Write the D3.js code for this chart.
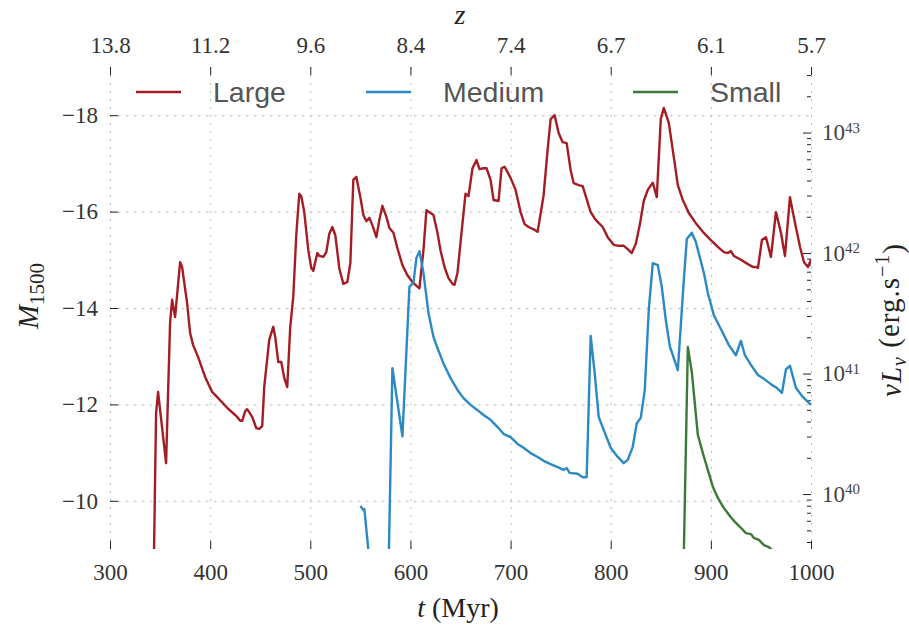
<!DOCTYPE html>
<html><head><meta charset="utf-8">
<script src="https://cdn.jsdelivr.net/npm/d3@7"></script>
<style>body{margin:0;background:#fff;} svg{display:block;}</style>
</head><body>
<svg id="chart" width="909" height="627"></svg>
<script>
// ---- data (t in Myr, M1500) ----
const seriesNames = ["Large", "Medium", "Small"];
const seriesColors = ["#A41C24", "#2B89C4", "#3B7A38"];
const largeData = [[344,-9.0],[346,-11.82],[348,-12.26],[356,-10.78],[360,-13.69],[362,-14.17],[365,-13.81],[370,-14.95],[372,-14.85],[377,-14.10],[380,-13.48],[383,-13.23],[388,-12.98],[395,-12.57],[402,-12.26],[408,-12.13],[417,-11.93],[425,-11.78],[427,-11.74],[430,-11.66],[432,-11.66],[435,-11.86],[437,-11.90],[442,-11.74],[446,-11.51],[449,-11.49],[452,-11.55],[454,-12.36],[459,-13.34],[463,-13.61],[465,-13.40],[468,-12.88],[471,-12.88],[474,-12.55],[477,-12.36],[480,-13.61],[483,-14.23],[486,-15.51],[489,-16.37],[491,-16.32],[494,-15.99],[498,-15.20],[501,-14.83],[503,-14.77],[507,-15.14],[509,-15.08],[513,-15.06],[516,-15.16],[519,-15.54],[522,-15.68],[525,-15.51],[529,-14.82],[533,-14.50],[537,-14.54],[540,-14.93],[543,-16.66],[546,-16.72],[550,-16.30],[553,-15.93],[556,-15.80],[559,-15.87],[562,-15.72],[566,-15.47],[569,-15.83],[572,-16.12],[576,-15.89],[579,-15.66],[583,-15.56],[587,-15.24],[592,-14.89],[597,-14.68],[602,-14.54],[606,-14.46],[609,-14.41],[613,-15.20],[616,-16.03],[620,-15.97],[623,-15.93],[627,-15.56],[630,-15.20],[634,-14.85],[638,-14.62],[642,-14.50],[644,-14.48],[647,-14.73],[651,-15.56],[655,-16.37],[658,-16.32],[662,-16.90],[666,-17.07],[669,-16.88],[673,-16.90],[676,-16.90],[680,-16.66],[683,-16.24],[688,-16.22],[691,-16.90],[694,-16.93],[697,-16.82],[700,-16.70],[705,-16.45],[710,-15.99],[714,-15.74],[718,-15.68],[724,-15.62],[727,-15.58],[733,-16.34],[737,-17.28],[740,-17.92],[744,-18.00],[748,-17.63],[752,-17.44],[756,-17.42],[760,-16.86],[763,-16.59],[768,-16.55],[772,-16.53],[780,-15.99],[785,-15.83],[792,-15.68],[797,-15.47],[803,-15.31],[808,-15.29],[813,-15.29],[817,-15.22],[821,-15.14],[825,-15.33],[829,-15.72],[833,-16.22],[837,-16.45],[842,-16.60],[846,-16.30],[850,-17.92],[853,-18.15],[858,-17.84],[863,-17.13],[867,-16.55],[872,-16.24],[878,-15.97],[885,-15.76],[892,-15.58],[900,-15.41],[907,-15.27],[913,-15.16],[917,-15.14],[920,-15.18],[923,-15.08],[930,-15.00],[937,-14.91],[942,-14.85],[945,-14.85],[947,-14.83],[951,-15.41],[955,-15.47],[960,-15.06],[965,-15.99],[970,-15.56],[974,-15.08],[979,-16.30],[983,-15.87],[989,-15.27],[993,-14.95],[997,-14.85],[1000,-15.0]];
const mediumData = [[550,-9.89],[553,-9.81],[554,-9.83],[558,-8.98],[562,-8.4],[578,-8.4],[582,-12.75],[592,-11.34],[599,-14.44],[603,-14.52],[606,-15.04],[609,-15.18],[613,-14.73],[618,-13.90],[623,-13.40],[627,-13.17],[633,-12.85],[640,-12.55],[647,-12.30],[653,-12.13],[660,-11.99],[667,-11.88],[673,-11.78],[680,-11.68],[687,-11.53],[693,-11.39],[700,-11.32],[707,-11.18],[713,-11.10],[720,-10.99],[727,-10.91],[733,-10.83],[740,-10.76],[747,-10.70],[753,-10.64],[756,-10.68],[759,-10.58],[767,-10.56],[772,-10.49],[776,-10.49],[780,-13.42],[784,-12.65],[788,-11.74],[793,-11.47],[800,-11.10],[807,-10.91],[813,-10.78],[817,-10.85],[822,-11.12],[826,-11.61],[830,-11.72],[834,-12.30],[838,-13.96],[842,-14.93],[847,-14.89],[851,-14.44],[855,-13.75],[859,-13.21],[867,-12.71],[873,-14.58],[876,-15.43],[881,-15.56],[885,-15.37],[893,-14.73],[897,-14.31],[903,-13.85],[912,-13.48],[918,-13.23],[925,-13.02],[930,-13.32],[934,-13.02],[940,-12.82],[947,-12.61],[953,-12.53],[960,-12.42],[966,-12.34],[971,-12.24],[975,-12.73],[979,-12.80],[985,-12.34],[992,-12.15],[1000,-11.99]];
const smallData = [[873,-8.9],[877,-13.19],[881,-12.67],[887,-11.37],[892,-10.99],[897,-10.64],[902,-10.29],[907,-10.06],[913,-9.85],[920,-9.66],[925,-9.54],[930,-9.44],[935,-9.33],[940,-9.31],[943,-9.23],[948,-9.19],[953,-9.08],[958,-9.04],[961,-8.98],[964,-8.9]];
const xTicks = [300,400,500,600,700,800,900,1000];
const zTickLabels = ["13.8","11.2","9.6","8.4","7.4","6.7","6.1","5.7"];
const yTicks = [-18,-16,-14,-12,-10];
const lumMajor = [1e40,1e41,1e42,1e43];

// ---- layout ----
const svg = d3.select("#chart");
const P = {l:110, r:811, t:67, b:549};
const x = d3.scaleLinear().domain([300,1000]).range([P.l,P.r]);
const y = d3.scaleLinear().domain([-9,-19]).range([P.b,P.t]);
const yR = d3.scaleLog().domain([Math.pow(10,39.544), Math.pow(10,43.544)]).range([P.b,P.t]);
const SERIF = "'Liberation Serif', 'Times New Roman', serif";
const SANS = "'Liberation Sans', Arial, sans-serif";
const gridColor = "#bdbdbd";

// grid
svg.append("g").attr("transform",`translate(0,${P.b})`)
  .call(d3.axisBottom(x).tickValues(xTicks).tickSize(-(P.b-P.t)).tickFormat(""))
  .call(g=>g.select(".domain").remove())
  .selectAll("line").attr("stroke",gridColor).attr("stroke-width",1).attr("stroke-dasharray","2,6");
svg.append("g").attr("transform",`translate(${P.l},0)`)
  .call(d3.axisLeft(y).tickValues(yTicks).tickSize(-(P.r-P.l)).tickFormat(""))
  .call(g=>g.select(".domain").remove())
  .selectAll("line").attr("stroke",gridColor).attr("stroke-width",1).attr("stroke-dasharray","2.5,5.5");

function styleAxis(g, color){
  g.select(".domain").remove();
  g.selectAll(".tick line").attr("stroke","#222").attr("stroke-width",1);
  g.selectAll(".tick text").attr("font-family",SERIF).attr("font-size","23px").attr("fill",color||"#333");
}
// bottom axis
svg.append("g").attr("transform",`translate(0,${P.b})`)
  .call(d3.axisBottom(x).tickValues(xTicks).tickSizeInner(-8).tickSizeOuter(0).tickPadding(15).tickFormat(d3.format("d")))
  .call(g=>styleAxis(g));
// top axis (redshift)
svg.append("g").attr("transform",`translate(0,${P.t})`)
  .call(d3.axisTop(x).tickValues(xTicks).tickSizeInner(-8).tickSizeOuter(0).tickPadding(14).tickFormat((d,i)=>zTickLabels[i]))
  .call(g=>styleAxis(g));
// left axis
svg.append("g").attr("transform",`translate(${P.l},0)`)
  .call(d3.axisLeft(y).tickValues(yTicks).tickSizeInner(-8).tickSizeOuter(0).tickPadding(12).tickFormat(d=>"\u2212"+Math.abs(d)))
  .call(g=>styleAxis(g));
// right axis minor
const lumMinor = [];
for (let k=39;k<=43;k++) for (let j=2;j<=9;j++){ const v=j*Math.pow(10,k); if (v>=yR.domain()[0] && v<=yR.domain()[1]) lumMinor.push(v); }
svg.append("g").attr("transform",`translate(${P.r},0)`)
  .call(d3.axisRight(yR).tickValues(lumMinor).tickSizeInner(-4).tickSizeOuter(0).tickFormat(""))
  .call(g=>styleAxis(g));
const rAx = svg.append("g").attr("transform",`translate(${P.r},0)`)
  .call(d3.axisRight(yR).tickValues(lumMajor).tickSizeInner(-8).tickSizeOuter(0).tickPadding(11).tickFormat(""))
  .call(g=>styleAxis(g,"#444"));
rAx.selectAll(".tick text").each(function(d){
  const t = d3.select(this);
  t.append("tspan").text("10");
  t.append("tspan").attr("dy","-0.5em").attr("font-size","15px").text(Math.round(Math.log10(d)));
});

// clip & lines
svg.append("clipPath").attr("id","plotclip").append("rect")
  .attr("x",P.l).attr("y",P.t).attr("width",P.r-P.l).attr("height",P.b-P.t);
const line = d3.line().x(d=>x(d[0])).y(d=>y(d[1]));
const allData = [largeData, mediumData, smallData];
const lg = svg.append("g").attr("clip-path","url(#plotclip)");
allData.forEach((data,i)=>{
  lg.append("path").datum(data).attr("d",line).attr("fill","none")
    .attr("stroke",seriesColors[i]).attr("stroke-width",2.4).attr("stroke-linejoin","round");
});

// legend
const legX = [136, 366, 633];
seriesNames.forEach((n,i)=>{
  svg.append("line").attr("x1",legX[i]).attr("x2",legX[i]+45).attr("y1",92).attr("y2",92)
    .attr("stroke",seriesColors[i]).attr("stroke-width",2.6);
  svg.append("text").attr("x",legX[i]+77).attr("y",102).attr("font-family",SANS)
    .attr("font-size","28.5px").attr("fill","#555").text(n);
});

// axis titles
svg.append("text").attr("x",460).attr("y",24).attr("text-anchor","middle")
  .attr("font-family",SERIF).attr("font-size","28px").attr("font-style","italic").attr("fill","#222").text("z");
const tx = svg.append("text").attr("x",458).attr("y",617).attr("text-anchor","middle")
  .attr("font-family",SERIF).attr("font-size","28px").attr("fill","#222");
tx.append("tspan").attr("font-style","italic").text("t");
tx.append("tspan").text(" (Myr)");
const ly = svg.append("text").attr("transform","translate(38,296) rotate(-90)").attr("text-anchor","middle")
  .attr("font-family",SERIF).attr("font-size","29px").attr("fill","#222");
ly.append("tspan").attr("font-style","italic").text("M");
ly.append("tspan").attr("font-size","21px").attr("dy","0.3em").text("1500");
const ry = svg.append("text").attr("transform","translate(901,320) rotate(-90)").attr("text-anchor","middle")
  .attr("font-family",SERIF).attr("font-size","29px").attr("letter-spacing","1px").attr("fill","#222");
ry.append("tspan").attr("font-style","italic").text("\u03BDL");
ry.append("tspan").attr("font-style","italic").attr("font-size","20px").attr("dy","0.25em").text("\u03BD");
ry.append("tspan").attr("dy","-0.25em").text(" (erg.s");
ry.append("tspan").attr("font-size","20px").attr("dy","-0.5em").text("\u22121");
ry.append("tspan").attr("dy","0.5em").text(")");
</script>
</body></html>
